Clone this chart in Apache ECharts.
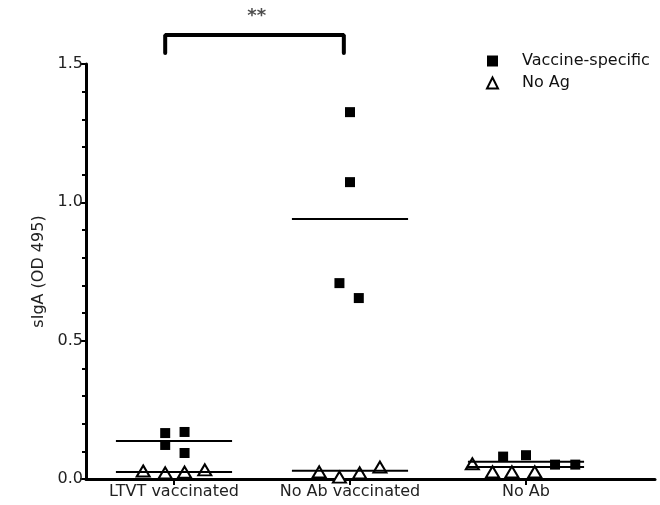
<!DOCTYPE html>
<html>
<head>
<meta charset="utf-8">
<script src="https://cdn.jsdelivr.net/npm/echarts@6/dist/echarts.min.js"></script>
<style>
  html, body { margin: 0; background: #fff; }
  #main { width: 660px; height: 505px; }
</style>
</head>
<body>
<div id="main"></div>
<script>
// groups on the x axis (one band each)
var groups = ['LTVT vaccinated', 'No Ab vaccinated', 'No Ab'];
var groupPos = [0.5, 1.5, 2.5];

// Vaccine-specific (filled squares)
var vaccineValues = [
    [0.166, 0.170, 0.123, 0.094],
    [1.326, 1.073, 0.708, 0.654],
    [0.081, 0.086, 0.052, 0.052]
];
var vaccineJitter = [
    [-0.05, 0.06, -0.05, 0.06],
    [0.0, 0.0, -0.06, 0.05],
    [-0.13, 0.0, 0.165, 0.28]
];
var vaccineMeans = [0.137, 0.94, 0.062];

// No Ag (open triangles)
var noAgValues = [
    [0.029, 0.022, 0.025, 0.033],
    [0.026, 0.007, 0.022, 0.043],
    [0.055, 0.026, 0.026, 0.026]
];
var noAgJitter = [
    [-0.175, -0.05, 0.06, 0.175],
    [-0.175, -0.06, 0.055, 0.17],
    [-0.305, -0.19, -0.08, 0.05]
];
var noAgMeans = [0.025, 0.03, 0.043];

var meanHalfWidth = 0.33;
var font = '"DejaVu Sans", "Liberation Sans", Arial, sans-serif';

function points(values, jitter) {
    var out = [];
    values.forEach(function (vals, g) {
        vals.forEach(function (v, i) {
            out.push([groupPos[g] + jitter[g][i], v]);
        });
    });
    return out;
}

var series = [];

// mean bars
[vaccineMeans, noAgMeans].forEach(function (means) {
    means.forEach(function (m, g) {
        series.push({
            type: 'line',
            symbol: 'none',
            silent: true,
            z: 5,
            lineStyle: { color: '#000', width: 2 },
            data: [[groupPos[g] - meanHalfWidth, m], [groupPos[g] + meanHalfWidth, m]]
        });
    });
});

series.push({
    name: 'Vaccine-specific',
    type: 'scatter',
    symbol: 'rect',
    symbolSize: 10,
    z: 3,
    itemStyle: { color: '#000', opacity: 1 },
    data: points(vaccineValues, vaccineJitter)
});

series.push({
    name: 'No Ag',
    type: 'scatter',
    symbol: 'triangle',
    symbolSize: [13, 11],
    z: 3,
    itemStyle: { color: '#fff', borderColor: '#000', borderWidth: 2, opacity: 1 },
    data: points(noAgValues, noAgJitter)
});

// significance bracket between group 1 and 2
series.push({
    type: 'line',
    symbol: 'none',
    silent: true,
    clip: false,
    lineStyle: { color: '#000', width: 4, cap: 'round' },
    data: [[0.45, 1.54], [0.45, 1.605], [1.465, 1.605], [1.465, 1.54]]
});
series.push({
    type: 'scatter',
    symbolSize: 0,
    silent: true,
    clip: false,
    label: {
        show: true, position: 'inside', formatter: '**',
        fontSize: 18, fontWeight: 'bold', color: '#222', fontFamily: font
    },
    data: [[0.97, 1.672]]
});

var chart = echarts.init(document.getElementById('main'));
chart.setOption({
    animation: false,
    backgroundColor: '#fff',
    grid: { left: 86, right: 5, top: 64, bottom: 26 },
    legend: {
        data: ['Vaccine-specific', 'No Ag'],
        orient: 'vertical',
        left: 481,
        top: 48,
        itemWidth: 11,
        itemHeight: 11,
        itemGap: 6,
        selectedMode: false,
        textStyle: { fontSize: 16, color: '#111', fontFamily: font, padding: [0, 0, 0, 19] }
    },
    xAxis: {
        type: 'value',
        min: 0,
        max: 3.233,
        splitLine: { show: false },
        axisLine: { lineStyle: { color: '#000', width: 3 } },
        axisTick: {
            show: true, length: 6, lineStyle: { color: '#000', width: 2 },
            customValues: groupPos
        },
        axisLabel: {
            customValues: groupPos,
            margin: 5,
            fontSize: 16,
            color: '#222',
            fontFamily: font,
            formatter: function (v) {
                return groups[groupPos.indexOf(v)];
            }
        }
    },
    yAxis: {
        type: 'value',
        min: 0,
        max: 1.5,
        interval: 0.5,
        name: 'sIgA (OD 495)',
        nameLocation: 'middle',
        nameGap: 39,
        nameTextStyle: { fontSize: 16, color: '#222', fontFamily: font },
        splitLine: { show: false },
        axisLine: { show: true, lineStyle: { color: '#000', width: 3 } },
        axisTick: { show: true, length: 6, lineStyle: { color: '#000', width: 2 } },
        minorTick: { show: true, splitNumber: 5, length: 4, lineStyle: { color: '#000', width: 2 } },
        axisLabel: {
            margin: 3,
            fontSize: 16,
            color: '#222',
            fontFamily: font,
            formatter: function (v) { return v.toFixed(1); }
        }
    },
    series: series
});
</script>
</body>
</html>
